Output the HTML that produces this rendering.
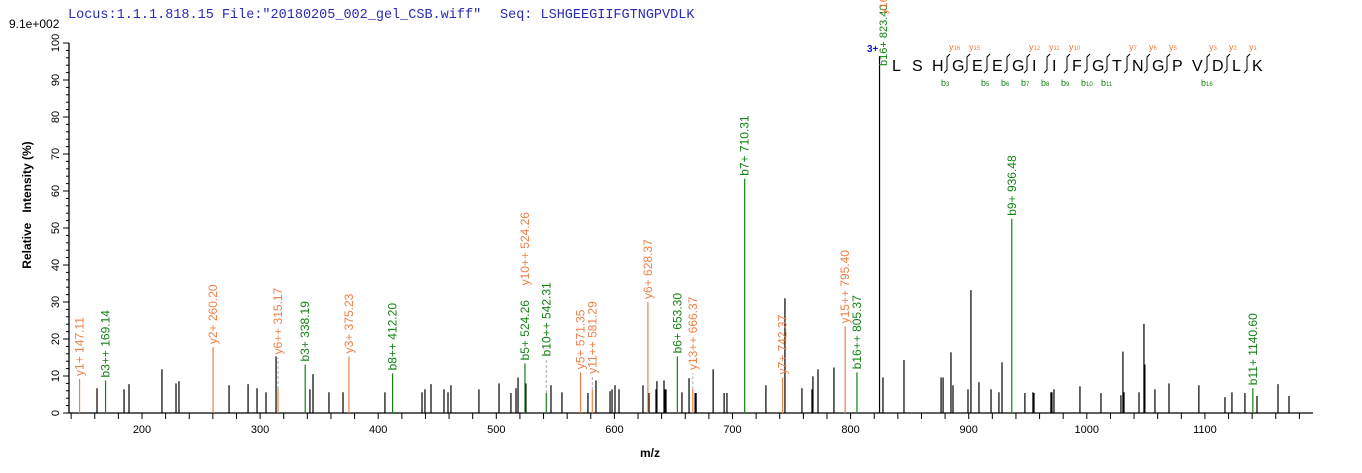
<!DOCTYPE html>
<html><head><meta charset="utf-8"><style>
html,body{margin:0;padding:0;background:#fff;width:1362px;height:473px;overflow:hidden}
svg{display:block}
text{font-family:"Liberation Sans",Arial,sans-serif;white-space:pre}
</style></head><body>
<svg id="chart" width="1362" height="473" viewBox="0 0 1362 473" xmlns="http://www.w3.org/2000/svg">
<text x="68" y="18" font-size="13.5" fill="#2a2ab8" style="font-family:'Liberation Mono',monospace">Locus:1.1.1.818.15 File:"20180205_002_gel_CSB.wiff"</text>
<text x="500" y="18" font-size="13.5" fill="#2a2ab8" style="font-family:'Liberation Mono',monospace">Seq: LSHGEEGIIFGTNGPVDLK</text>
<text x="9" y="28" font-size="12" fill="#000">9.1e+002</text>
<text transform="translate(31,205) rotate(-90)" text-anchor="middle" font-size="12" font-weight="bold">Relative   Intensity (%)</text>
<text x="650" y="457" text-anchor="middle" font-size="12" font-weight="bold">m/z</text>
<g id="axes"></g><g id="peaks"></g><g id="ions"></g><g id="pep"></g>
</svg>
<script>
const peakMz=[161.9,184.8,189,216.9,228.8,231.3,273.7,289.8,297.4,305,313.5,342.2,344.8,358.3,370.2,405.7,437.1,439.6,444.7,455.7,459.1,461.6,485.3,502.3,
512.4,516.7,518.4,525.1,546.3,555.6,577.6,584.4,596.3,598,600.5,603.9,624.2,629.3,635.2,636,642,642.8,643.7,657.2,663.2,668.3,669.2,683.6,692.9,695.3,
728.3,744.4,758.8,767.3,768.1,772.4,785.9,
824.5,827.4,845.2,876.6,878.3,885,886.7,899.4,901.9,908.7,918.9,925.6,928.2,947.6,954.4,955.3,969.6,970.5,972.2,994.2,1012,1028.9,1030.6,1031.5,1044.2,1048.4,1049.2,1057.7,1069.6,1094.9,1117,1122.9,1133.9,1144.1,1161.9,1171.2];
const peakInt=[6.7,6.4,7.8,11.8,8,8.6,7.5,7.8,6.7,5.6,15.3,6.4,10.5,5.6,5.6,5.6,5.6,6.4,7.8,6.4,5.6,7.5,6.4,8,
5.4,6.7,9.6,8,7.5,5.6,5.4,8.8,5.9,6.4,7.5,6.4,7.5,5.4,6.4,8.6,8.8,6.4,6.4,5.6,9.4,5.4,5.4,11.8,5.4,5.4,
7.5,31,6.7,6.4,9.9,11.8,12.3,
96.5,9.6,14.3,9.6,9.6,16.4,7.5,6.4,33.2,8.3,6.4,5.6,13.7,5.4,5.6,5.4,5.6,5.6,6.4,7.2,5.4,4.8,16.6,5.6,5.6,24.1,13.1,6.4,8,7.5,4.3,5.6,5.4,4.6,7.8,4.6];
const ionMz=[147.11,169.14,260.20,315.17,338.19,375.23,412.20,524.26,542.31,571.35,581.29,628.37,653.30,666.37,710.31,742.37,795.40,805.37,936.48,1140.60];
const ionInt=[9.2,8.8,17.8,6.5,13.1,15.3,10.7,13.4,5.4,11,6.2,30,15.3,6.4,63.3,9.6,23.4,11,52.5,6.7];
const ionLabelAt=[9.2,8.8,17.8,15,13.1,15.3,10.7,13.4,14.5,11,9.8,30,15.3,10.8,63.3,9.6,23.4,11,52.5,6.7];
const ionLabel=["y1+ 147.11","b3++ 169.14","y2+ 260.20","y6++ 315.17","b3+ 338.19","y3+ 375.23","b8++ 412.20","b5+ 524.26","b10++ 542.31","y5+ 571.35","y11++ 581.29","y6+ 628.37","b6+ 653.30","y13++ 666.37","b7+ 710.31","y7+ 742.37","y15++ 795.40","b16++ 805.37","b9+ 936.48","b11+ 1140.60"];
const ionType=["y","b","y","y","b","y","b","b","b","y","y","y","b","y","b","y","y","b","b","b"];
const xTicks=[200,300,400,500,600,700,800,900,1000,1100];
const yTicks=[0,10,20,30,40,50,60,70,80,90,100];
const peptide=["L","S","H","G","E","E","G","I","I","F","G","T","N","G","P","V","D","L","K"];
const yBreaks=[3,4,7,8,9,12,13,14,16,17,18];
const yNames=["16","15","12","11","10","7","6","5","3","2","1"];
const bBreaks=[3,5,6,7,8,9,10,11,16];
const bNames=["3","5","6","7","8","9","10","11","16"];

const NS="http://www.w3.org/2000/svg";
const X0=69,X1=1313,Y0=413;
function xs(mz){return 142+(mz-200)*1.181;}
function ys(v){return Y0-v*3.7;}
function mk(tag,attrs,parent){const e=document.createElementNS(NS,tag);for(const k in attrs)e.setAttribute(k,attrs[k]);parent.appendChild(e);return e;}
const ORANGE="#ef7f45",GREEN="#128212";
const axes=document.getElementById('axes');
let e=mk('line',{x1:X0,y1:Y0,x2:X1,y2:Y0,stroke:'#000','stroke-width':1.3},axes);


e=mk('line',{x1:X0,y1:Y0,x2:X0,y2:ys(100),stroke:'#000','stroke-width':1.3},axes);


for(let m=140;m<=1180;m+=20){mk('line',{x1:xs(m),y1:Y0,x2:xs(m),y2:Y0+6,stroke:'#000'},axes);}
xTicks.forEach(t=>{const tx=mk('text',{x:xs(t),y:Y0+20,'text-anchor':'middle','font-size':11},axes);tx.textContent=t;

});
for(let v=0;v<=100;v+=2){mk('line',{x1:X0,y1:ys(v),x2:X0-(v%10==0?6:3),y2:ys(v),stroke:'#000'},axes);}
yTicks.forEach(t=>{const tx=mk('text',{transform:`translate(${X0-10},${ys(t)}) rotate(-90)`,'text-anchor':'middle','font-size':11},axes);tx.textContent=t;

});
const pk=document.getElementById('peaks');
peakMz.forEach((m,i)=>{const l=mk('line',{x1:xs(m),y1:Y0,x2:xs(m),y2:ys(peakInt[i]),stroke:'#000','stroke-width':1.2},pk);

});
const io=document.getElementById('ions');
ionMz.forEach((m,i)=>{const c=ionType[i]=='y'?ORANGE:GREEN;const x=xs(m);
const l=mk('line',{x1:x,y1:Y0,x2:x,y2:ys(ionInt[i]),stroke:c,'stroke-width':1.2},io);


if(ionLabelAt[i]>ionInt[i]+1){mk('line',{x1:x,y1:ys(ionInt[i]),x2:x,y2:ys(ionLabelAt[i]),stroke:'#aaa','stroke-dasharray':'3,2'},io);}
const t=mk('text',{transform:`translate(${x+4},${ys(ionLabelAt[i])-3}) rotate(-90)`,'font-size':12,fill:c},io);t.textContent=ionLabel[i];

});
let t2=mk('text',{transform:`translate(${xs(524.26)+4},${ys(13.4)-78}) rotate(-90)`,'font-size':12,fill:ORANGE},io);t2.textContent="y10++ 524.26";


t2=mk('text',{x:867,y:52,'font-size':10,'font-weight':'bold',fill:'#1515d0'},io);t2.textContent="3+";


t2=mk('text',{transform:`translate(887,66) rotate(-90)`,'font-size':11,fill:GREEN},io);t2.textContent="b16+ 823.40";


t2=mk('text',{transform:`translate(887,14) rotate(-90)`,'font-size':11,fill:ORANGE},io);t2.textContent="y16";


const pp=document.getElementById('pep');
function lx(i){return 892+20*i;}
peptide.forEach((a,i)=>{const t=mk('text',{x:lx(i),y:71,'font-size':16,fill:'#000'},pp);t.textContent=a;

});
const brk=new Set([...yBreaks,...bBreaks]);
brk.forEach(b=>{const bx=lx(b)-5;mk('path',{d:`M${bx-3},73 L${bx},70 L${bx},57 L${bx+3},54`,fill:'none',stroke:'#000','stroke-width':1},pp);});
yBreaks.forEach((b,i)=>{const t=mk('text',{x:lx(b)-3,y:50,'font-size':9,fill:ORANGE},pp);t.innerHTML=`y<tspan font-size="6">${yNames[i]}</tspan>`;

});
bBreaks.forEach((b,i)=>{const t=mk('text',{x:lx(b)-11,y:86,'font-size':9,fill:GREEN},pp);t.innerHTML=`b<tspan font-size="6">${bNames[i]}</tspan>`;

});
</script>
</body></html>
